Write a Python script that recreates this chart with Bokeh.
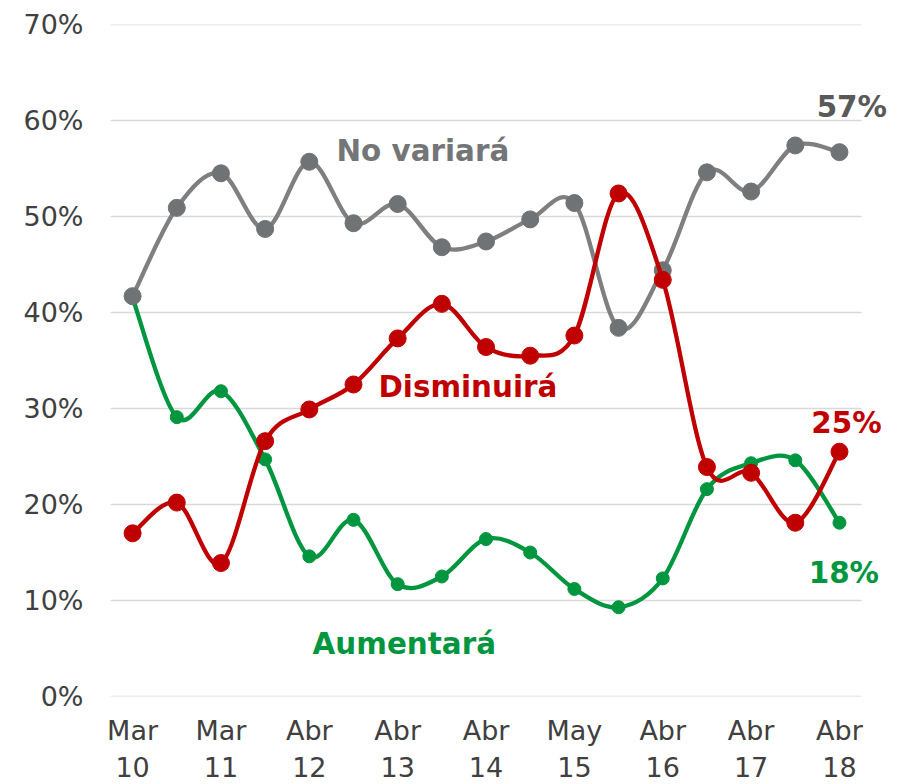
from bokeh.plotting import figure
from bokeh.models import ColumnDataSource, FixedTicker, Range1d, Label
from bokeh.embed import file_html
from bokeh.resources import INLINE

# ---- data ----
tick_labels = ["Mar\n10", "Mar\n11", "Abr\n12", "Abr\n13", "Abr\n14",
               "May\n15", "Abr\n16", "Abr\n17", "Abr\n18"]
x_idx = list(range(17))
y_ticks = [0, 10, 20, 30, 40, 50, 60, 70]
no_variara = [41.7, 50.9, 54.5, 48.7, 55.7, 49.3, 51.3, 46.8, 47.4, 49.7,
              51.4, 38.4, 44.4, 54.6, 52.6, 57.4, 56.7]
disminuira = [17.0, 20.2, 13.9, 26.6, 29.9, 32.5, 37.3, 40.9, 36.4, 35.5,
              37.6, 52.4, 43.4, 23.9, 23.3, 18.1, 25.5]
aumentara = [41.5, 29.1, 31.8, 24.7, 14.6, 18.4, 11.7, 12.5, 16.4, 15.0,
             11.2, 9.3, 12.3, 21.6, 24.3, 24.6, 18.1]

FONT = "DejaVu Sans"
GRAY_L, GRAY_M = "#7f7f7f", "#6f7376"
RED = "#c00000"
GREEN = "#00963f"

STEP = 44.18  # px per category
FRAME_W = 792
p = figure(frame_width=FRAME_W, frame_height=672, output_backend="svg",
           toolbar_location=None,
           x_range=Range1d(-0.5, -0.5 + FRAME_W / STEP), y_range=Range1d(0, 70),
           min_border_left=110, min_border_right=0, min_border_top=24,
           min_border_bottom=86)
p.outline_line_color = None
p.background_fill_color = "white"
p.border_fill_color = "white"

p.xgrid.grid_line_color = None
p.ygrid.grid_line_color = None
# horizontal gridlines spanning the category extent only
p.segment(x0=[-0.5] * len(y_ticks), x1=[len(x_idx) - 0.5] * len(y_ticks),
          y0=y_ticks, y1=y_ticks, line_color="#d9d9d9", line_width=1.5)

p.yaxis.ticker = FixedTicker(ticks=y_ticks)
p.yaxis.major_label_overrides = {v: f"{v}%" for v in y_ticks}
p.xaxis.ticker = FixedTicker(ticks=list(range(0, 17, 2)))
p.xaxis.major_label_overrides = {i * 2: t for i, t in enumerate(tick_labels)}
for ax in (p.xaxis, p.yaxis):
    ax.axis_line_color = None
    ax.major_tick_line_color = None
    ax.minor_tick_line_color = None
    ax.major_tick_out = 0
    ax.major_tick_in = 0
    ax.major_label_text_font = FONT
    ax.major_label_text_font_size = "27px"
    ax.major_label_text_color = "#404040"
p.yaxis.major_label_standoff = 27
p.xaxis.major_label_standoff = 18
p.xaxis.major_label_text_line_height = 1.2


def smooth(xs, ys):
    # cubic Bezier segments through the data points (Catmull-Rom style)
    n = len(xs)
    d = dict(x0=[], y0=[], x1=[], y1=[], cx0=[], cy0=[], cx1=[], cy1=[])
    for i in range(n - 1):
        xp, yp = (xs[i - 1], ys[i - 1]) if i > 0 else (xs[i], ys[i])
        xn2, yn2 = (xs[i + 2], ys[i + 2]) if i + 2 < n else (xs[i + 1], ys[i + 1])
        d["x0"].append(xs[i]); d["y0"].append(ys[i])
        d["x1"].append(xs[i + 1]); d["y1"].append(ys[i + 1])
        d["cx0"].append(xs[i] + (xs[i + 1] - xp) / 6)
        d["cy0"].append(ys[i] + (ys[i + 1] - yp) / 6)
        d["cx1"].append(xs[i + 1] - (xn2 - xs[i]) / 6)
        d["cy1"].append(ys[i + 1] - (yn2 - ys[i]) / 6)
    return ColumnDataSource(d)


series = [
    (aumentara, GREEN, GREEN, 13),
    (no_variara, GRAY_L, GRAY_M, 17),
    (disminuira, RED, RED, 17),
]
for ys, lc, mc, ms in series:
    p.bezier(x0="x0", y0="y0", x1="x1", y1="y1", cx0="cx0", cy0="cy0",
             cx1="cx1", cy1="cy1", source=smooth(x_idx, ys),
             line_color=lc, line_width=4.3, line_cap="round")
    p.scatter(x_idx, ys, size=ms, fill_color=mc, line_color=mc)

labels = [
    (6.57, 56.8, "No variará", "#737577"),
    (7.59, 32.2, "Disminuirá", RED),
    (6.15, 5.5, "Aumentará", GREEN),
    (16.28, 61.4, "57%", "#595959"),
    (16.16, 28.5, "25%", RED),
    (16.10, 12.9, "18%", GREEN),
]
for x, y, t, c in labels:
    p.add_layout(Label(x=x, y=y, text=t, text_color=c, text_font=FONT,
                       text_font_style="bold", text_font_size="29.4px",
                       text_align="center", text_baseline="middle"))

open("out.html", "w").write(file_html(p, INLINE))
